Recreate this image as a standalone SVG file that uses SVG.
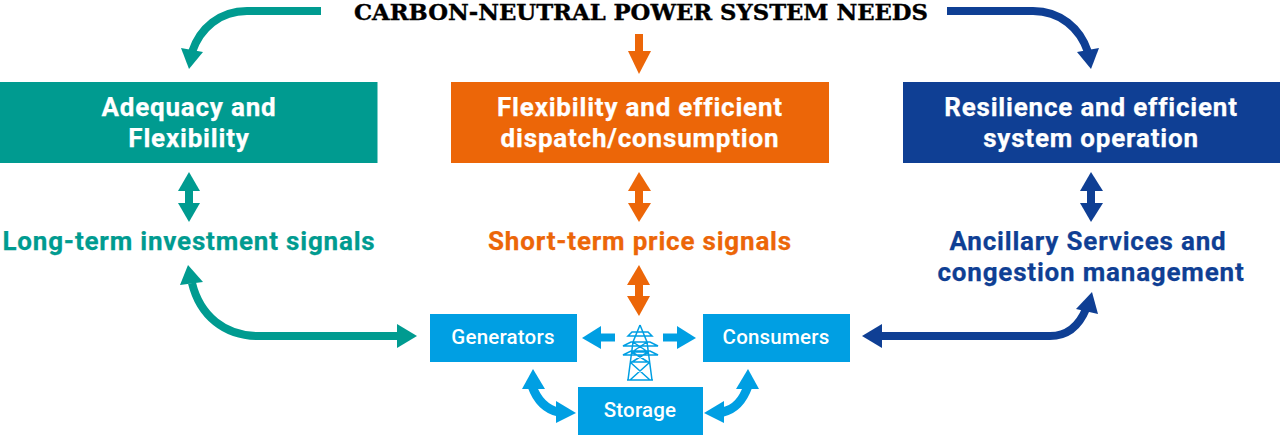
<svg xmlns="http://www.w3.org/2000/svg" width="1280" height="441" viewBox="0 0 1280 441">
<style>
text{font-family:Roboto,"Liberation Sans",sans-serif;font-weight:700;text-anchor:middle}
.big{font-size:26px;letter-spacing:.8px;stroke-width:.25}
.w{fill:#fff;stroke:#fff}
.sm{font-size:20.500px;font-weight:500;fill:#fff;letter-spacing:.2px}
.teal{fill:#009B90}.or{fill:#EC6608}.blue{fill:#0F3F94}.lb{fill:#009FE3}
.ln{fill:none;stroke-width:8}
.ts{stroke:#009B90}.bs{stroke:#0F3F94}.ls{stroke:#009FE3}.os{stroke:#EC6608}
.tw{fill:none;stroke:#009FE3;stroke-width:1.5}
</style>
<rect width="1280" height="441" fill="#fff"/>
<g id="connectors">
<path class="ln ts" d="M321 11H247C220 11 200 28 192 52"/><polygon class="teal" points="189,69 181,48 203,52"/>
<path class="ln os" d="M639 34V52"/><polygon class="or" points="639,74 628,51 651,51"/>
<path class="ln bs" d="M947 11H1033C1060 11 1080 28 1088 52"/><polygon class="blue" points="1091,69 1077,52 1099,48"/>
<path class="ln ts" d="M189 188V206"/><polygon class="teal" points="189,172 178,191 200,191"/><polygon class="teal" points="189,222 178,203 200,203"/>
<path class="ln os" d="M639 188V206"/><polygon class="or" points="639,172 628,191 651,191"/><polygon class="or" points="639,222 628,203 651,203"/>
<path class="ln bs" d="M1091 188V206"/><polygon class="blue" points="1091,172 1080,191 1103,191"/><polygon class="blue" points="1091,222 1080,203 1103,203"/>
<path class="ln os" d="M639 283V298"/><polygon class="or" points="639,265 627,285 650,285"/><polygon class="or" points="639,316 627,296 650,296"/>
<path class="ln ts" d="M192 283C200 316 225 336 258 336H399"/><polygon class="teal" points="188,265 180,285 203,282"/><polygon class="teal" points="417,336 397,324 397,348"/>
<path class="ln bs" d="M1086 309C1079 326 1067 336 1050 336H880"/><polygon class="blue" points="1092,292 1076,309 1098,314"/><polygon class="blue" points="862,336 882,324 882,348"/>
<path class="ln ls" style="stroke-width:9" d="M532 386C537 400 546 409 558 412"/><polygon class="lb" points="533,369 522,389 545,389"/><polygon class="lb" points="576,413 556,401 556,423"/>
<path class="ln ls" style="stroke-width:9" d="M748 386C743 400 736 409 723 412"/><polygon class="lb" points="748,369 736,389 759,389"/><polygon class="lb" points="704,413 724,401 724,423"/>
<path class="ln ls" d="M599 337.500H615"/><polygon class="lb" points="582,338 601,326 601,349"/>
<path class="ln ls" d="M663 337.500H679"/><polygon class="lb" points="696,338 677,326 677,349"/>
</g>
<g id="tower"><path class="tw" d="M640 325L633 342L628 380M640 325L647 342L652 380M627 380H653M633 342H647M632 352H648M630 362H650M630 362L650 380M650 362L630 380M632 352L648 362M648 352L632 362M633 342L648 352M647 342L632 352M635 336H645M628 336H652L648 332H632ZM623 346H658L650 342H631ZM623 355H658L650 351H631Z"/></g>
<text x="641" y="20" style="font-family:'DejaVu Serif',serif;font-size:23px;font-weight:700;fill:#000;stroke:#000;stroke-width:.4" textLength="574" lengthAdjust="spacingAndGlyphs">CARBON-NEUTRAL POWER SYSTEM NEEDS</text>
<g id="adequacy"><rect class="teal" x="0" y="82" width="377.500" height="81"/><text class="big w" x="189" y="115.500">Adequacy and</text><text class="big w" x="189" y="146.500">Flexibility</text></g>
<g id="flexibility"><rect class="or" x="451" y="82" width="378" height="81"/><text class="big w" x="640" y="115.500">Flexibility and efficient</text><text class="big w" x="640" y="146.500">dispatch/consumption</text></g>
<g id="resilience"><rect class="blue" x="903" y="82" width="377" height="81"/><text class="big w" x="1091" y="115.500">Resilience and efficient</text><text class="big w" x="1091" y="146.500">system operation</text></g>
<g id="long-term"><text class="big teal" style="stroke:#009B90" x="189" y="249.500">Long-term investment signals</text></g>
<g id="short-term"><text class="big or" style="stroke:#EC6608" x="640" y="249.500">Short-term price signals</text></g>
<g id="ancillary"><text class="big blue" style="stroke:#0F3F94" x="1088" y="249.500">Ancillary Services and</text><text class="big blue" style="stroke:#0F3F94" x="1091" y="280.500">congestion management</text></g>
<g id="generators"><rect class="lb" x="430" y="314" width="147" height="48"/><text class="sm" x="503" y="344">Generators</text></g>
<g id="consumers"><rect class="lb" x="703" y="314" width="147" height="48"/><text class="sm" x="776" y="344">Consumers</text></g>
<g id="storage"><rect class="lb" x="578" y="387" width="125" height="48"/><text class="sm" x="640" y="417">Storage</text></g>
</svg>
